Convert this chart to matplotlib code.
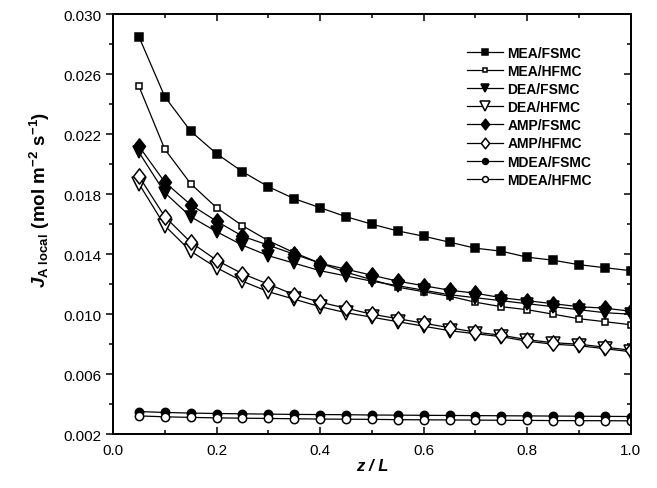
import numpy as np
import matplotlib
matplotlib.use('Agg')
import matplotlib.pyplot as plt
from matplotlib.path import Path
from matplotlib.ticker import MultipleLocator, FormatStrFormatter

plt.rcParams['font.family'] = ['Liberation Sans', 'DejaVu Sans']
plt.rcParams['mathtext.fontset'] = 'custom'
plt.rcParams['mathtext.rm'] = 'Liberation Sans:bold'
plt.rcParams['mathtext.it'] = 'Liberation Sans:italic:bold'
plt.rcParams['mathtext.bf'] = 'Liberation Sans:bold'

# dimensionless module position
z = [0.05, 0.10, 0.15, 0.20, 0.25, 0.30, 0.35, 0.40, 0.45, 0.50,
     0.55, 0.60, 0.65, 0.70, 0.75, 0.80, 0.85, 0.90, 0.95, 1.00]

# local CO2 flux, mol m-2 s-1
mea_fsmc = [0.0285, 0.0245, 0.0222, 0.0207, 0.0195, 0.0185, 0.0177, 0.0171, 0.0165, 0.0160,
            0.01555, 0.0152, 0.0148, 0.0144, 0.0142, 0.0138, 0.0136, 0.0133, 0.0131, 0.0129]
mea_hfmc = [0.0252, 0.0210, 0.0187, 0.0171, 0.0159, 0.0149, 0.0141, 0.0134, 0.0128, 0.0123,
            0.0118, 0.0115, 0.0112, 0.0108, 0.0105, 0.0103, 0.0100, 0.0097, 0.0095, 0.0093]
dea_fsmc = [0.0208, 0.0181, 0.0165, 0.0155, 0.0146, 0.0139, 0.0134, 0.0129, 0.01255, 0.0122,
            0.0119, 0.0116, 0.0113, 0.0111, 0.0109, 0.0107, 0.0105, 0.0103, 0.0101, 0.0100]
dea_hfmc = [0.0187, 0.0159, 0.0142, 0.0131, 0.0122, 0.0115, 0.0110, 0.0105, 0.0101, 0.0098,
            0.0095, 0.0092, 0.0089, 0.0087, 0.0085, 0.0082, 0.0080, 0.0079, 0.0077, 0.0075]
amp_fsmc = [0.0212, 0.0188, 0.0173, 0.0162, 0.0152, 0.0146, 0.0140, 0.0134, 0.0130, 0.0126,
            0.0122, 0.0119, 0.0116, 0.0114, 0.0111, 0.0109, 0.0107, 0.0105, 0.0104, 0.0102]
amp_hfmc = [0.0192, 0.0165, 0.0148, 0.0136, 0.0127, 0.0120, 0.0113, 0.0108, 0.0104, 0.0100,
            0.0097, 0.0094, 0.0091, 0.0088, 0.0086, 0.0083, 0.0081, 0.0080, 0.0078, 0.0076]
mdea_fsmc = [0.00351, 0.00345, 0.00341, 0.00338, 0.00336, 0.00334, 0.00332, 0.00331, 0.00330, 0.00328,
             0.00327, 0.00326, 0.00325, 0.00324, 0.00323, 0.00322, 0.00321, 0.00320, 0.00319, 0.00318]
mdea_hfmc = [0.00322, 0.00316, 0.00312, 0.00309, 0.00307, 0.00305, 0.00303, 0.00301, 0.00300, 0.00299,
             0.00297, 0.00296, 0.00295, 0.00294, 0.00293, 0.00292, 0.00291, 0.00290, 0.00290, 0.00289]

labels = ['MEA/FSMC', 'MEA/HFMC', 'DEA/FSMC', 'DEA/HFMC',
          'AMP/FSMC', 'AMP/HFMC', 'MDEA/FSMC', 'MDEA/HFMC']
results_all = [mea_fsmc, mea_hfmc, dea_fsmc, dea_hfmc,
               amp_fsmc, amp_hfmc, mdea_fsmc, mdea_hfmc]

# tall diamond like the Origin symbol
diamond = Path([(0, 1), (0.78, 0), (0, -1), (-0.78, 0), (0, 1)],
               [Path.MOVETO, Path.LINETO, Path.LINETO, Path.LINETO, Path.CLOSEPOLY])

markers = ['s', 's', 'v', 'v', diamond, diamond, 'o', 'o']
sizes = [5.5, 5.0, 9, 9.5, 11, 11, 6, 6]
fills = ['black', 'white'] * 4

fig = plt.figure(figsize=(6.57, 4.89), dpi=100)
ax = fig.add_axes([0.172, 0.110, 0.788, 0.859])

for ys, label, m, ms, fc in zip(results_all, labels, markers, sizes, fills):
    ax.plot(z, ys, color='black', lw=0.9, marker=m, ms=ms,
            mfc=fc, mec='black', mew=1.1, label=label)

ax.set_xlim(0.0, 1.0)
ax.set_ylim(0.002, 0.030)
ax.xaxis.set_major_locator(MultipleLocator(0.2))
ax.xaxis.set_minor_locator(MultipleLocator(0.1))
ax.set_yticks(np.arange(0.002, 0.0301, 0.004))
ax.yaxis.set_minor_locator(MultipleLocator(0.002))
ax.xaxis.set_major_formatter(FormatStrFormatter('%.1f'))
ax.yaxis.set_major_formatter(FormatStrFormatter('%.3f'))

for s in ax.spines.values():
    s.set_linewidth(1.3)
ax.tick_params(axis='both', which='both', labelsize=11, width=1.1)
ax.tick_params(axis='x', which='both', direction='in', top=True, pad=6)
ax.tick_params(axis='y', which='both', direction='out', pad=3)
ax.tick_params(which='major', length=5)
ax.tick_params(which='minor', length=3)

# inward ticks on the right-hand frame
ax_r = ax.twinx()
ax_r.set_ylim(ax.get_ylim())
ax_r.set_yticks(ax.get_yticks())
ax_r.yaxis.set_minor_locator(MultipleLocator(0.002))
ax_r.tick_params(axis='y', which='both', direction='in', labelright=False, width=1.1)
ax_r.tick_params(which='major', length=5)
ax_r.tick_params(which='minor', length=3)
for s in ax_r.spines.values():
    s.set_linewidth(1.3)

ax.set_xlabel('z / L', fontsize=12, fontweight='bold', fontstyle='italic', labelpad=1)
ax.set_ylabel(r'$J_{\mathrm{A\ local}}\ \mathrm{(mol\ m^{-2}\ s^{-1})}$', fontsize=13.5)
ax.yaxis.set_label_coords(-0.118, 0.56)

ax.legend(loc='upper left', bbox_to_anchor=(0.683, 0.925), frameon=False,
          prop={'weight': 'bold', 'size': 10}, markerscale=0.7,
          handlelength=2.6, handletextpad=0.35, labelspacing=0.3,
          borderpad=0, borderaxespad=0)

fig.savefig('out.png', dpi=100)
